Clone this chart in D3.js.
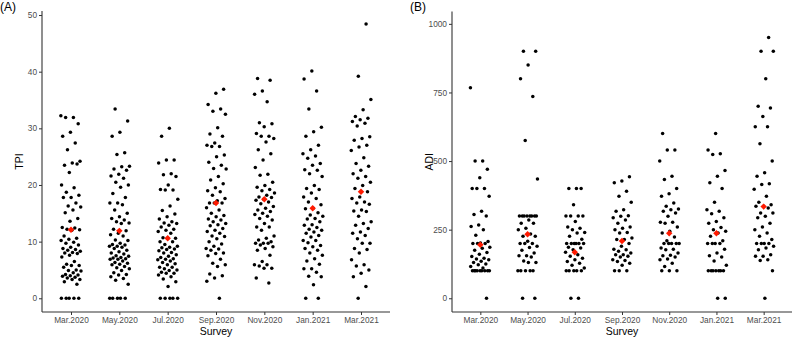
<!DOCTYPE html>
<html>
<head>
<meta charset="utf-8">
<script src="https://cdn.jsdelivr.net/npm/d3@7"></script>
<style>
  body { margin: 0; background: #fff; }
  svg { display: block; font-family: "Liberation Sans", Arial, sans-serif; }
</style>
</head>
<body>
<svg id="chart" width="793" height="339"></svg>
<script>
const surveys = ["Mar.2020", "May.2020", "Jul.2020", "Sep.2020", "Nov.2020", "Jan.2021", "Mar.2021"];

// TPI scores per survey
const tpiMar20 = [32.2, 31.9, 31.9, 30.8, 29.3, 28.6, 27.4, 26.2, 24.2, 23.9, 23.5, 23.7, 22.2, 20.0, 19.5, 18.7, 18.2, 17.8, 17.8, 16.8, 16.3, 16.1, 15.6, 15.1, 14.1, 13.6, 12.5, 12.4, 12.2, 12.1, 12.0, 11.0, 10.6, 10.4, 10.2, 9.9, 9.7, 9.4, 9.0, 8.8, 8.6, 8.5, 8.3, 8.1, 8.0, 7.9, 7.6, 7.3, 6.5, 6.0, 5.8, 5.8, 5.5, 5.0, 4.9, 4.8, 4.5, 4.2, 4.1, 4.0, 3.9, 3.7, 3.6, 3.3, 3.3, 2.9, 2.5, 0, 0, 0, 0, 0];
const tpiMay20 = [33.4, 31.3, 29.3, 28.6, 25.7, 25.4, 23.3, 23.2, 22.8, 22.6, 21.9, 21.6, 21.2, 20.5, 20.0, 19.6, 18.5, 17.8, 16.8, 16.8, 16.5, 15.6, 15.0, 14.4, 14.1, 13.8, 13.5, 13.3, 13.2, 12.2, 11.9, 11.5, 11.2, 11.0, 10.3, 10.2, 9.7, 9.5, 9.4, 9.2, 9.2, 9.0, 8.8, 8.5, 8.2, 8.0, 7.8, 7.5, 7.4, 7.2, 7.1, 7.0, 6.9, 6.9, 6.6, 6.3, 6.2, 6.0, 5.9, 5.6, 5.4, 5.2, 4.9, 4.5, 4.2, 4.1, 3.8, 3.5, 3.2, 2.5, 0, 0, 0, 0, 0];
const tpiJul20 = [30.0, 28.6, 24.4, 24.4, 23.9, 22.0, 21.8, 21.5, 20.0, 19.2, 19.1, 19.1, 17.5, 16.3, 15.5, 14.9, 14.4, 14.0, 13.5, 13.3, 13.2, 12.9, 12.6, 12.2, 12.0, 11.8, 11.5, 10.7, 10.6, 10.6, 10.0, 10.0, 9.5, 9.2, 9.0, 8.9, 8.7, 8.6, 8.4, 8.1, 8.0, 7.7, 7.4, 7.2, 7.0, 6.9, 6.8, 6.6, 6.3, 6.1, 5.9, 5.5, 5.5, 5.2, 5.0, 4.9, 4.6, 4.4, 4.4, 4.1, 3.8, 3.4, 2.9, 2.1, 0, 0, 0, 0, 0];
const tpiSep20 = [36.9, 36.2, 34.2, 33.4, 33.0, 32.5, 30.1, 29.0, 28.6, 27.4, 27.0, 26.8, 26.8, 25.3, 25.0, 24.0, 23.5, 22.9, 22.8, 21.5, 20.9, 20.2, 19.5, 19.0, 18.8, 18.2, 17.6, 17.2, 16.8, 16.8, 16.8, 16.0, 15.6, 15.0, 14.6, 14.4, 14.0, 13.8, 13.5, 13.2, 13.0, 12.8, 12.3, 12.0, 11.8, 11.5, 11.0, 10.9, 10.5, 10.0, 9.6, 9.2, 8.8, 8.7, 8.5, 8.0, 7.9, 7.5, 6.9, 6.2, 5.9, 5.6, 4.3, 4.0, 3.6, 3.0, 0];
const tpiNov20 = [38.8, 38.5, 36.6, 36.0, 34.7, 31.0, 30.8, 30.3, 29.1, 28.6, 28.6, 28.2, 27.6, 26.2, 25.5, 24.4, 23.1, 21.9, 21.7, 20.5, 19.9, 19.6, 19.2, 19.0, 18.6, 18.2, 17.9, 17.8, 17.5, 17.3, 17.0, 16.7, 16.2, 15.9, 15.6, 15.3, 15.0, 14.8, 14.5, 14.1, 13.8, 13.2, 12.6, 12.6, 12.0, 11.0, 10.6, 10.3, 10.0, 9.7, 9.7, 9.7, 9.4, 9.1, 8.8, 8.5, 7.6, 6.5, 5.9, 5.9, 5.7, 5.3, 5.3, 3.6, 2.7];
const tpiJan21 = [40.1, 38.7, 36.6, 33.4, 30.2, 29.4, 28.6, 27.0, 26.2, 25.5, 25.1, 24.7, 23.8, 23.5, 22.7, 22.6, 22.0, 21.5, 19.9, 19.4, 19.2, 18.6, 17.9, 17.6, 17.0, 16.5, 15.9, 15.8, 15.1, 14.7, 14.5, 14.1, 14.0, 13.5, 13.0, 12.9, 12.5, 12.2, 12.0, 11.7, 11.5, 11.1, 10.8, 10.2, 10.2, 9.8, 9.3, 9.1, 8.8, 8.5, 8.0, 7.6, 7.0, 6.6, 6.0, 5.2, 5.2, 4.6, 3.9, 3.8, 2.4, 0, 0];
const tpiMar21 = [48.4, 39.2, 35.1, 33.3, 32.1, 31.8, 31.5, 31.2, 30.9, 30.4, 28.5, 28.2, 27.9, 27.0, 26.7, 26.1, 24.8, 23.8, 23.3, 22.6, 22.0, 21.5, 21.2, 20.5, 19.9, 19.4, 18.8, 17.9, 17.6, 17.0, 16.8, 16.6, 15.6, 15.4, 15.3, 14.5, 13.5, 13.2, 12.9, 12.3, 11.7, 11.5, 11.1, 10.5, 9.7, 9.7, 8.8, 8.6, 8.0, 6.8, 5.9, 5.7, 5.0, 4.4, 3.8, 2.1, 0];
const tpiMean = [12.1, 11.9, 10.6, 16.8, 17.5, 15.9, 18.8];

// ADI scores per survey
const adiMar20 = [767, 500, 500, 470, 439, 400, 400, 400, 372, 317, 305, 300, 267, 262, 250, 230, 207, 201, 200, 200, 200, 186, 182, 175, 167, 160, 152, 146, 143, 140, 135, 130, 125, 122, 116, 110, 100, 100, 100, 100, 100, 100, 100, 100, 100, 0];
const adiMay20 = [900, 900, 850, 800, 735, 575, 435, 300, 300, 300, 300, 300, 300, 300, 300, 285, 273, 273, 255, 250, 234, 226, 226, 208, 200, 200, 200, 190, 185, 175, 165, 155, 155, 150, 136, 130, 130, 100, 100, 100, 100, 100, 0, 0];
const adiJul20 = [400, 400, 400, 341, 300, 300, 300, 300, 280, 260, 255, 250, 240, 238, 226, 215, 200, 200, 200, 200, 200, 200, 186, 183, 177, 168, 159, 153, 146, 140, 134, 128, 120, 110, 100, 100, 100, 100, 100, 0, 0];
const adiSep20 = [443, 427, 421, 390, 372, 350, 323, 317, 301, 299, 293, 285, 273, 260, 255, 250, 240, 238, 220, 214, 214, 200, 190, 179, 177, 171, 165, 159, 159, 153, 150, 140, 138, 134, 128, 120, 100, 100, 100];
const adiNov20 = [600, 540, 540, 500, 445, 433, 400, 381, 372, 347, 335, 325, 323, 317, 311, 299, 277, 277, 273, 260, 244, 238, 223, 210, 200, 200, 200, 200, 200, 183, 179, 177, 165, 157, 155, 150, 143, 140, 128, 116, 100, 100, 100];
const adiJan21 = [600, 540, 527, 524, 466, 445, 421, 400, 350, 323, 317, 308, 293, 280, 273, 258, 250, 244, 238, 226, 210, 200, 200, 200, 200, 179, 165, 155, 150, 136, 120, 100, 100, 100, 100, 100, 100, 100, 0, 0];
const adiMar21 = [950, 900, 900, 800, 700, 693, 662, 625, 625, 563, 500, 457, 445, 417, 415, 397, 372, 350, 341, 335, 335, 329, 311, 311, 299, 293, 273, 260, 250, 238, 226, 214, 200, 200, 200, 200, 190, 183, 177, 159, 153, 153, 140, 138, 100, 0];
const adiMean = [195, 233, 168, 209, 237, 237, 334];

const tpiTicks = [0, 10, 20, 30, 40, 50];
const adiTicks = [0, 250, 500, 750, 1000];

const svg = d3.select('#chart');

// deterministic spread inside each column (stands in for geom_jitter)
const spread = (i, g) => ((i * 0.6180339887 + g * 0.2917) % 1) - 0.5;

function panel(opts) {
    const { groups, means, ticks, label, yTitle, left, right, top, bottom, domain } = opts;

    const x = d3.scalePoint().domain(surveys).range([left, right]).padding(0.6);
    const y = d3.scaleLinear().domain(domain).range([bottom, top]);

    const g = svg.append('g');

    const rows = groups.flatMap((vals, gi) =>
        vals.map((v, i) => ({ s: surveys[gi], v, dx: spread(i, gi) * 0.42 * x.step() })));

    g.selectAll('circle.pt')
        .data(rows)
        .join('circle')
        .attr('class', 'pt')
        .attr('cx', d => x(d.s) + d.dx)
        .attr('cy', d => y(d.v))
        .attr('r', 1.75)
        .attr('fill', '#000');

    g.selectAll('path.mean')
        .data(means.map((m, i) => ({ s: surveys[i], m })))
        .join('path')
        .attr('class', 'mean')
        .attr('d', d3.symbol(d3.symbolSquare, 21))
        .attr('transform', d => `translate(${x(d.s)},${y(d.m)}) rotate(45)`)
        .attr('fill', '#ff1a00');

    const yAxis = g.append('g')
        .attr('transform', `translate(${left},0)`)
        .call(d3.axisLeft(y).tickValues(ticks).tickFormat(d3.format('d')).tickSize(3).tickPadding(2));
    const xAxis = g.append('g')
        .attr('transform', `translate(0,${bottom})`)
        .call(d3.axisBottom(x).tickSize(3).tickPadding(2));

    [yAxis, xAxis].forEach(ax => {
        ax.select('.domain').attr('stroke', '#333').attr('stroke-width', 1.1);
        ax.selectAll('.tick line').attr('stroke', '#333').attr('stroke-width', 1);
        ax.selectAll('.tick text').attr('fill', '#4d4d4d').style('font-size', '8.3px')
            .style('font-family', '"Liberation Sans", Arial, sans-serif');
    });
    // axis lines drawn to the panel edges
    yAxis.select('.domain').attr('d', `M0,${top}V${bottom}`);
    xAxis.select('.domain').attr('d', `M${left},0H${right}`);

    g.append('text')
        .attr('x', (left + right) / 2).attr('y', bottom + 23)
        .attr('text-anchor', 'middle').style('font-size', '10.5px')
        .text('Survey');

    g.append('text')
        .attr('transform', `translate(${left - 19},${(top + bottom) / 2}) rotate(-90)`)
        .attr('text-anchor', 'middle').style('font-size', '10.5px')
        .text(yTitle);

    g.append('text')
        .attr('x', left - 42).attr('y', 11)
        .style('font-size', '12px')
        .text(label);
}

panel({
    groups: [tpiMar20, tpiMay20, tpiJul20, tpiSep20, tpiNov20, tpiJan21, tpiMar21],
    means: tpiMean, ticks: tpiTicks, label: '(A)', yTitle: 'TPI',
    left: 42, right: 390, top: 11, bottom: 312, domain: [-2.42, 50.71]
});

panel({
    groups: [adiMar20, adiMay20, adiJul20, adiSep20, adiNov20, adiJan21, adiMar21],
    means: adiMean, ticks: adiTicks, label: '(B)', yTitle: 'ADI',
    left: 452, right: 792, top: 11.5, bottom: 312, domain: [-50, 1045]
});
</script>
</body>
</html>
